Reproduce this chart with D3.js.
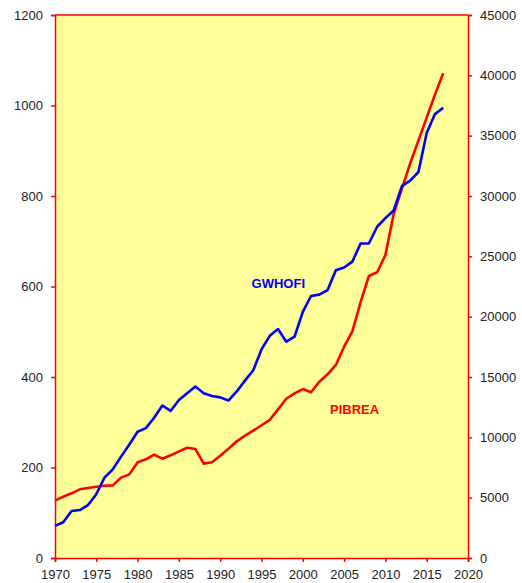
<!DOCTYPE html>
<html>
<head>
<meta charset="utf-8">
<style>
  body { margin: 0; background: #fff; }
  svg text { font-family: Arial, "Liberation Sans", sans-serif; }
</style>
</head>
<body>
<svg width="522" height="583"></svg>
<script src="https://d3js.org/d3.v7.min.js"></script>
<script>

// years 1970..2017
var years = d3.range(1970, 2018);

// GWHOFI (left axis)
var gwhofi = [71, 79, 104, 106, 117, 141, 178, 196, 224, 251,
              279, 287, 310, 337, 325, 349, 364, 379, 364, 358,
              355, 348, 368, 392, 415, 461, 491, 506, 478, 489,
              544, 579, 582, 592, 636, 642, 655, 695, 695, 732,
              751, 768, 822, 834, 853, 939, 981, 995];

// PIBREA (right axis)
var pibrea = [4750, 5080, 5360, 5690, 5800, 5910, 5990, 6020, 6660, 6930,
              7930, 8180, 8560, 8230, 8510, 8840, 9140, 9030, 7820, 7930,
              8480, 9060, 9670, 10140, 10550, 11000, 11450, 12320, 13200, 13650,
              14000, 13730, 14610, 15220, 16000, 17510, 18780, 21200, 23370, 23680,
              25110, 28500, 30600, 32700, 34600, 36500, 38400, 40170];

var xTicks = d3.range(1970, 2021, 5);
var leftTicks = d3.range(0, 1201, 200);
var rightTicks = d3.range(0, 45001, 5000);

var svg = d3.select("svg"),
    margin = {top: 15, right: 54, bottom: 25, left: 55},
    width = +svg.attr("width") - margin.left - margin.right,
    height = +svg.attr("height") - margin.top - margin.bottom,
    g = svg.append("g").attr("transform", "translate(" + margin.left + "," + margin.top + ")");

var x = d3.scaleLinear().domain([1970, 2020]).range([0, width]);
var yL = d3.scaleLinear().domain([0, 1200]).range([height, 0]);
var yR = d3.scaleLinear().domain([0, 45000]).range([height, 0]);

var fmt = d3.format("d");

// plot background
g.append("rect")
    .attr("width", width)
    .attr("height", height)
    .attr("fill", "#ffff99");

// top border
g.append("line")
    .attr("x1", 0).attr("x2", width)
    .attr("y1", 0).attr("y2", 0)
    .attr("stroke", "#ff0000")
    .attr("stroke-width", 1.5);

function styleAxis(sel) {
  sel.selectAll(".domain").attr("stroke", "#ff0000").attr("stroke-width", 1.5);
  sel.selectAll(".tick line").attr("stroke", "#ff0000").attr("stroke-width", 1.5);
  sel.selectAll(".tick text")
      .attr("fill", "#222")
      .style("font-size", "13px");
}

g.append("g")
    .attr("transform", "translate(0," + height + ")")
    .call(d3.axisBottom(x).tickValues(xTicks).tickFormat(fmt).tickSizeOuter(0).tickSize(4).tickPadding(8))
    .call(styleAxis);

g.append("g")
    .call(d3.axisLeft(yL).tickValues(leftTicks).tickFormat(fmt).tickSizeOuter(0).tickSize(4).tickPadding(8))
    .call(styleAxis);

g.append("g")
    .attr("transform", "translate(" + width + ",0)")
    .call(d3.axisRight(yR).tickValues(rightTicks).tickFormat(fmt).tickSizeOuter(0).tickSize(4).tickPadding(8))
    .call(styleAxis);

var lineL = d3.line()
    .x(function(d, i) { return x(years[i]); })
    .y(function(d) { return yL(d); });

var lineR = d3.line()
    .x(function(d, i) { return x(years[i]); })
    .y(function(d) { return yR(d); });

g.append("path")
    .datum(pibrea)
    .attr("fill", "none")
    .attr("stroke", "#ff0000")
    .attr("stroke-width", 2.6)
    .attr("stroke-linejoin", "round")
    .attr("d", lineR);

g.append("path")
    .datum(gwhofi)
    .attr("fill", "none")
    .attr("stroke", "#0000ff")
    .attr("stroke-width", 2.6)
    .attr("stroke-linejoin", "round")
    .attr("d", lineL);

g.append("text")
    .attr("x", x(1993.8))
    .attr("y", 273)
    .attr("fill", "#0000ff")
    .attr("font-weight", "bold")
    .style("font-size", "13px")
    .text("GWHOFI");

g.append("text")
    .attr("x", x(2003.3))
    .attr("y", 399)
    .attr("fill", "#ff0000")
    .attr("font-weight", "bold")
    .style("font-size", "13px")
    .text("PIBREA");

</script>
</body>
</html>
